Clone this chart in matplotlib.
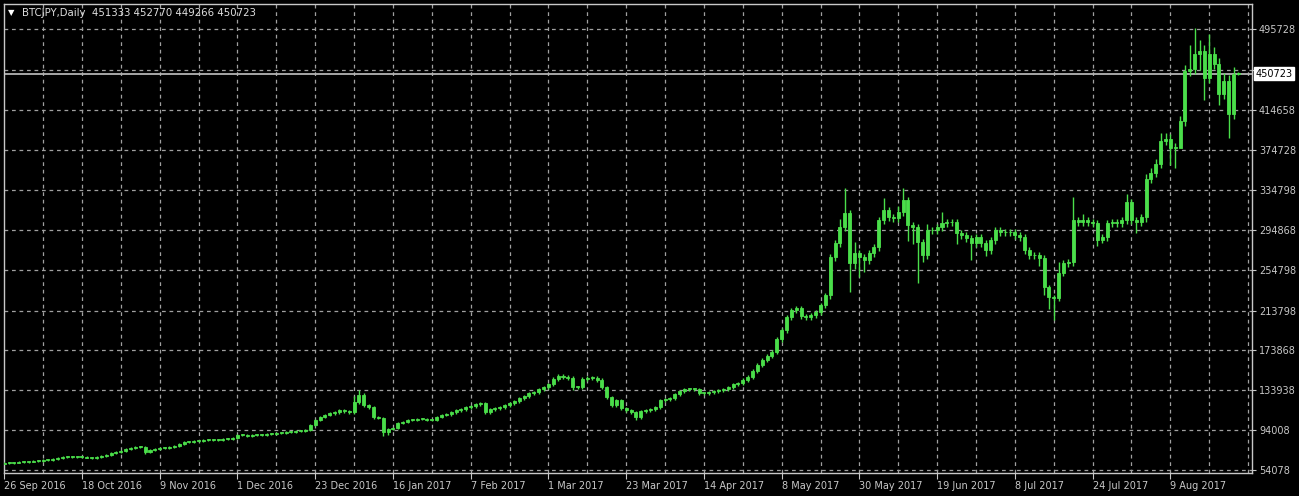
import matplotlib
matplotlib.use("Agg")
import matplotlib.pyplot as plt
from matplotlib.patches import Rectangle

# daily closes, thousands of JPY
closes_k = [
    61, 61, 61.5, 62, 62, 62.5, 63, 63, 64, 64,
    65, 66, 67, 67, 67, 67, 67, 66.5, 66, 67,
    68, 69, 71, 72, 73, 75, 76, 77, 77, 72,
    74, 75, 76, 76, 77, 78, 80, 82, 82, 83,
    83, 84, 84, 84, 84, 85, 85, 86, 89, 89,
    88, 89, 89, 89, 90, 90, 91, 91, 92, 92,
    93, 93, 94, 99, 104, 107, 109, 111, 112, 114,
    113, 112, 122, 129, 119, 117, 107, 106, 92, 95,
    96, 101, 102, 104, 104, 105, 105, 104, 104, 107,
    109, 110, 112, 114, 115, 117, 118, 120, 121, 112,
    115, 116, 117, 119, 121, 123, 126, 128, 131, 132,
    135, 137, 140, 145, 148, 147, 146, 137, 137, 145,
    146, 146, 144, 137, 127, 119, 124, 116, 114, 112,
    107, 113, 114, 115, 117, 124, 125, 126, 130, 133,
    135, 135, 135, 131, 131, 132, 133, 134, 135, 137,
    140, 141, 144, 147, 153, 159, 164, 168, 172, 185,
    194, 207, 214, 216, 208, 207, 209, 212, 219, 229,
    267, 281, 297, 311, 261, 271, 267, 264, 271, 277,
    304, 314, 307, 306, 312, 324, 299, 297, 282, 269,
    294, 294, 297, 301, 302, 302, 291, 289, 286, 281,
    287, 281, 274, 284, 294, 292, 292, 292, 289, 287,
    274, 269, 269, 266, 237, 227, 226, 251, 261, 262,
    304, 302, 304, 302, 301, 284, 287, 301, 302, 301,
    304, 322, 304, 302, 307, 346, 352, 361, 384, 386,
    377, 377, 404, 454, 456, 471, 474, 447, 471, 461,
    431, 444, 411, 451,
]
first_open_k = 60.5

# notable wick extremes, thousands of JPY
highs_k = {72: 128, 73: 134, 74: 131, 172: 305, 173: 336, 175: 282, 181: 326,
           184: 318, 185: 336, 190: 300, 193: 312, 217: 262, 220: 327, 222: 310,
           231: 330, 238: 392, 239: 392, 244: 480, 245: 497, 246: 485, 248: 491,
           249: 478, 251: 452, 253: 458}
lows_k = {29: 70, 78: 88, 79: 89, 99: 110, 117: 134, 130: 104, 174: 232, 175: 255,
          176: 247, 177: 252, 186: 283, 187: 280, 188: 241, 189: 262, 196: 280,
          199: 264, 202: 268, 213: 258, 214: 229, 215: 215, 216: 204, 225: 278,
          226: 281, 233: 291, 240: 360, 241: 357, 242: 395, 246: 455, 247: 425,
          250: 420, 252: 387}

# last bar from the header line
last_ohlc = [451333, 452770, 449266, 450723]

date_labels = ['26 Sep 2016', '18 Oct 2016', '9 Nov 2016', '1 Dec 2016', '23 Dec 2016',
               '16 Jan 2017', '7 Feb 2017', '1 Mar 2017', '23 Mar 2017', '14 Apr 2017',
               '8 May 2017', '30 May 2017', '19 Jun 2017', '8 Jul 2017', '24 Jul 2017',
               '9 Aug 2017']
price_labels = [54078, 94008, 133938, 173868, 213798, 254798, 294868, 334798,
                374728, 414658, 454588, 495728]

# build ohlc (open = previous close)
opens, highs, lows, closes = [], [], [], []
prev = first_open_k
for i, c in enumerate(closes_k):
    o = prev
    pad = 0.012 * max(o, c)
    hi = highs_k.get(i, max(o, c) + pad)
    lo = lows_k.get(i, min(o, c) - pad)
    opens.append(o * 1000); closes.append(c * 1000)
    highs.append(hi * 1000); lows.append(lo * 1000)
    prev = c
opens.append(last_ohlc[0]); highs.append(last_ohlc[1])
lows.append(last_ohlc[2]); closes.append(last_ohlc[3])
n = len(closes)

bg = 'black'
fg = '#c8c8c8'
candle = '#4ade4a'

fig = plt.figure(figsize=(12.99, 4.96), dpi=100, facecolor=bg)
ax = fig.add_axes([3.5 / 1299, 23 / 496, (1252 - 3.5) / 1299, (473 - 4) / 496])
ax.set_facecolor(bg)

# y scale: 54078 at px 470, 495728 at px 29
per_px = (495728 - 54078) / 441
ax.set_ylim(54078 - 3 * per_px, 495728 + 25 * per_px)
ax.set_xlim(-0.15, 256.8)

# grid
for k in range(8, n + 8, 8):
    ax.axvline(k, color='#a0a0a0', lw=0.9, ls=(0, (3, 3)), zorder=1)
for p in price_labels:
    ax.axhline(p, color='#a0a0a0', lw=0.9, ls=(0, (3, 3)), zorder=1)

# candles
w = 0.62
for i in range(n):
    o, h, l, c = opens[i], highs[i], lows[i], closes[i]
    ax.vlines(i, l, h, color=candle, lw=1.0, zorder=3)
    bot = min(o, c)
    height = max(abs(c - o), per_px * 0.8)
    ax.add_patch(Rectangle((i - w / 2, bot), w, height, facecolor=candle,
                           edgecolor=candle, lw=0.6, zorder=4))

# current price line
ax.axhline(last_ohlc[3], color='#b4b4b4', lw=1.3, zorder=2)

# axes styling
for s in ax.spines.values():
    s.set_color(fg)
    s.set_linewidth(1.0)
ax.yaxis.tick_right()
ax.set_yticks(price_labels)
# the 454588 label sits under the current price box
ax.set_yticklabels(['' if p == 454588 else str(p) for p in price_labels])
ax.tick_params(axis='y', colors=fg, labelsize=7, length=3, pad=2)
ax.set_xticks(range(0, 16 * len(date_labels), 16))
ax.set_xticklabels(date_labels, ha='left')
ax.tick_params(axis='x', colors=fg, labelsize=7, length=4, pad=2)

# current price box on the scale
ax.text(1.0025, last_ohlc[3], str(last_ohlc[3]), transform=ax.get_yaxis_transform(),
        ha='left', va='center', fontsize=7, color='black', zorder=10, clip_on=False,
        bbox=dict(boxstyle='square,pad=0.15', facecolor='white', edgecolor='white'))

# header
fig.text(8 / 1299, 1 - 13 / 496, '\u25bc', fontsize=6, color='white', va='center')
fig.text(22 / 1299, 1 - 13 / 496,
         'BTCJPY,Daily  ' + ' '.join(str(v) for v in last_ohlc),
         fontsize=7.3, color='#e0e0e0', va='center')

fig.savefig('out.png', dpi=100, facecolor=bg)
